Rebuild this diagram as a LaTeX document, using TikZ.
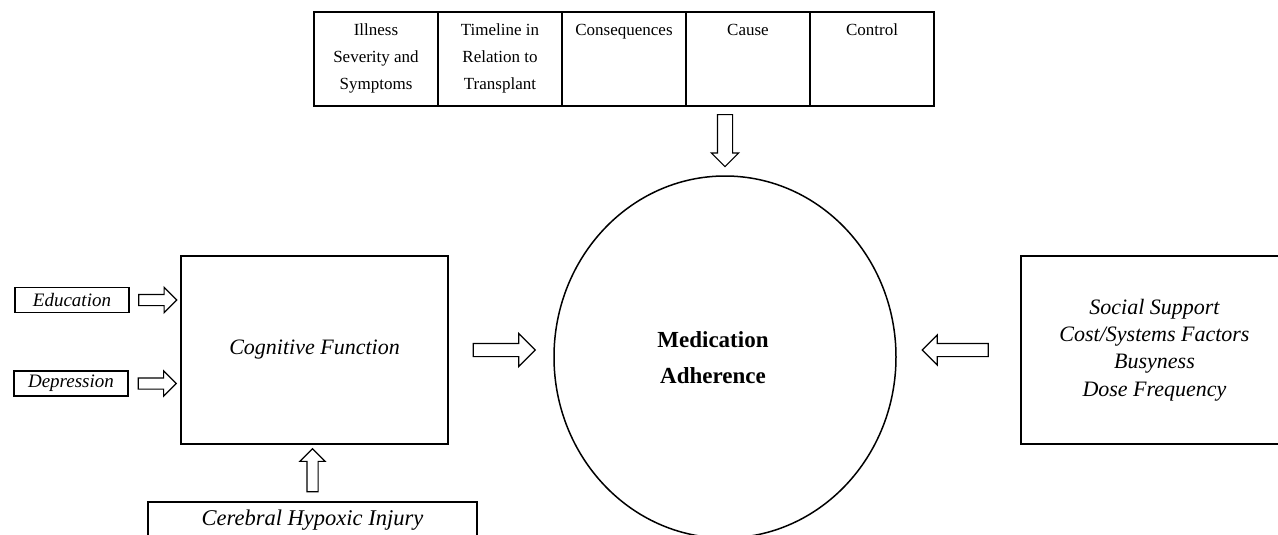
\documentclass[tikz,border=0pt]{standalone}
\usepackage{fontspec}
\setmainfont{Liberation Serif}
\usepackage{tikz}
\usetikzlibrary{shapes.arrows,shapes.geometric}

\tikzset{
  box/.style={draw,line width=1.5pt,inner sep=0pt},
  cell/.style={draw,line width=1.2pt,minimum width=124pt,minimum height=94pt,inner sep=0pt},
  blockarrow/.style={single arrow,draw,line width=1.2pt,inner xsep=0pt,inner ysep=6pt,
    single arrow head extend=7pt,minimum width=0pt,sloped,allow upside down},
}

\begin{document}
\begin{tikzpicture}[x=1pt,y=-1pt]
  \useasboundingbox (0,0) rectangle (1278,535);
  % illness perceptions row
  \foreach \i/\txt in {
      0/{Illness\\Severity and\\Symptoms},
      1/{Timeline in\\Relation to\\Transplant},
      2/{Consequences},
      3/{Cause},
      4/{Control}}{
    \node[cell] (cell\i) at (376+\i*124,59) {};
    \node[anchor=north,align=center,inner sep=0pt,
          font=\fontsize{17}{27}\selectfont] (txt\i) at (376+\i*124,24) {\txt};
  }
  % centre
  \node[ellipse,draw,line width=1.5pt,minimum width=342pt,minimum height=362pt] (med) at (725,357) {};
  \node[align=center,font=\fontsize{23}{36}\selectfont\bfseries] (medtxt) at (713,358)
    {Medication\\Adherence};
  % left side
  \node[box,minimum width=267pt,minimum height=188pt,
        font=\fontsize{22}{26}\selectfont\itshape] (cog) at (314.5,350) {Cognitive Function};
  \node[box,line width=1.2pt,minimum width=114pt,minimum height=25pt,
        font=\fontsize{19}{20}\selectfont\itshape] (edu) at (72,300) {Education};
  \node[box,line width=1.2pt,minimum width=114pt,minimum height=25pt,
        font=\fontsize{19}{20}\selectfont\itshape] (dep) at (71,383.5) {Depression};
  \node[box,line width=1.2pt,minimum width=329pt,minimum height=36pt,
        font=\fontsize{22.5}{24}\selectfont\itshape] (hyp) at (312.5,520) {Cerebral Hypoxic Injury};
  % right side
  \node[box,minimum width=267pt,minimum height=188pt,align=center,
        font=\fontsize{22}{27.3}\selectfont\itshape] (other) at (1154.5,350)
    {Social Support\\Cost/Systems Factors\\Busyness\\Dose Frequency};

  % block arrows
  \path (cell3.south -| med.north) -- (med.north)
    node[pos=0.44,blockarrow,minimum height=52pt,inner ysep=7pt,single arrow head extend=6pt] (a1) {};
  \path (cog.east) -- (cog.east -| med.west)
    node[midway,blockarrow,minimum height=62pt,single arrow head extend=10pt] (a2) {};
  \path (other.west) -- (other.west -| med.east)
    node[midway,blockarrow,minimum height=66pt,single arrow head extend=8.5pt] (a3) {};
  \path (edu.east) -- (edu.east -| cog.west)
    node[midway,blockarrow,minimum height=38pt,inner ysep=5pt,single arrow head extend=7pt] (a4) {};
  \path (dep.east) -- (dep.east -| cog.west)
    node[midway,blockarrow,minimum height=38pt,inner ysep=5pt,single arrow head extend=7pt] (a5) {};
  \path (hyp.north) -- (hyp.north |- cog.south)
    node[midway,blockarrow,minimum height=43pt,inner ysep=5pt,single arrow head extend=7pt] (a6) {};
\end{tikzpicture}
\end{document}
